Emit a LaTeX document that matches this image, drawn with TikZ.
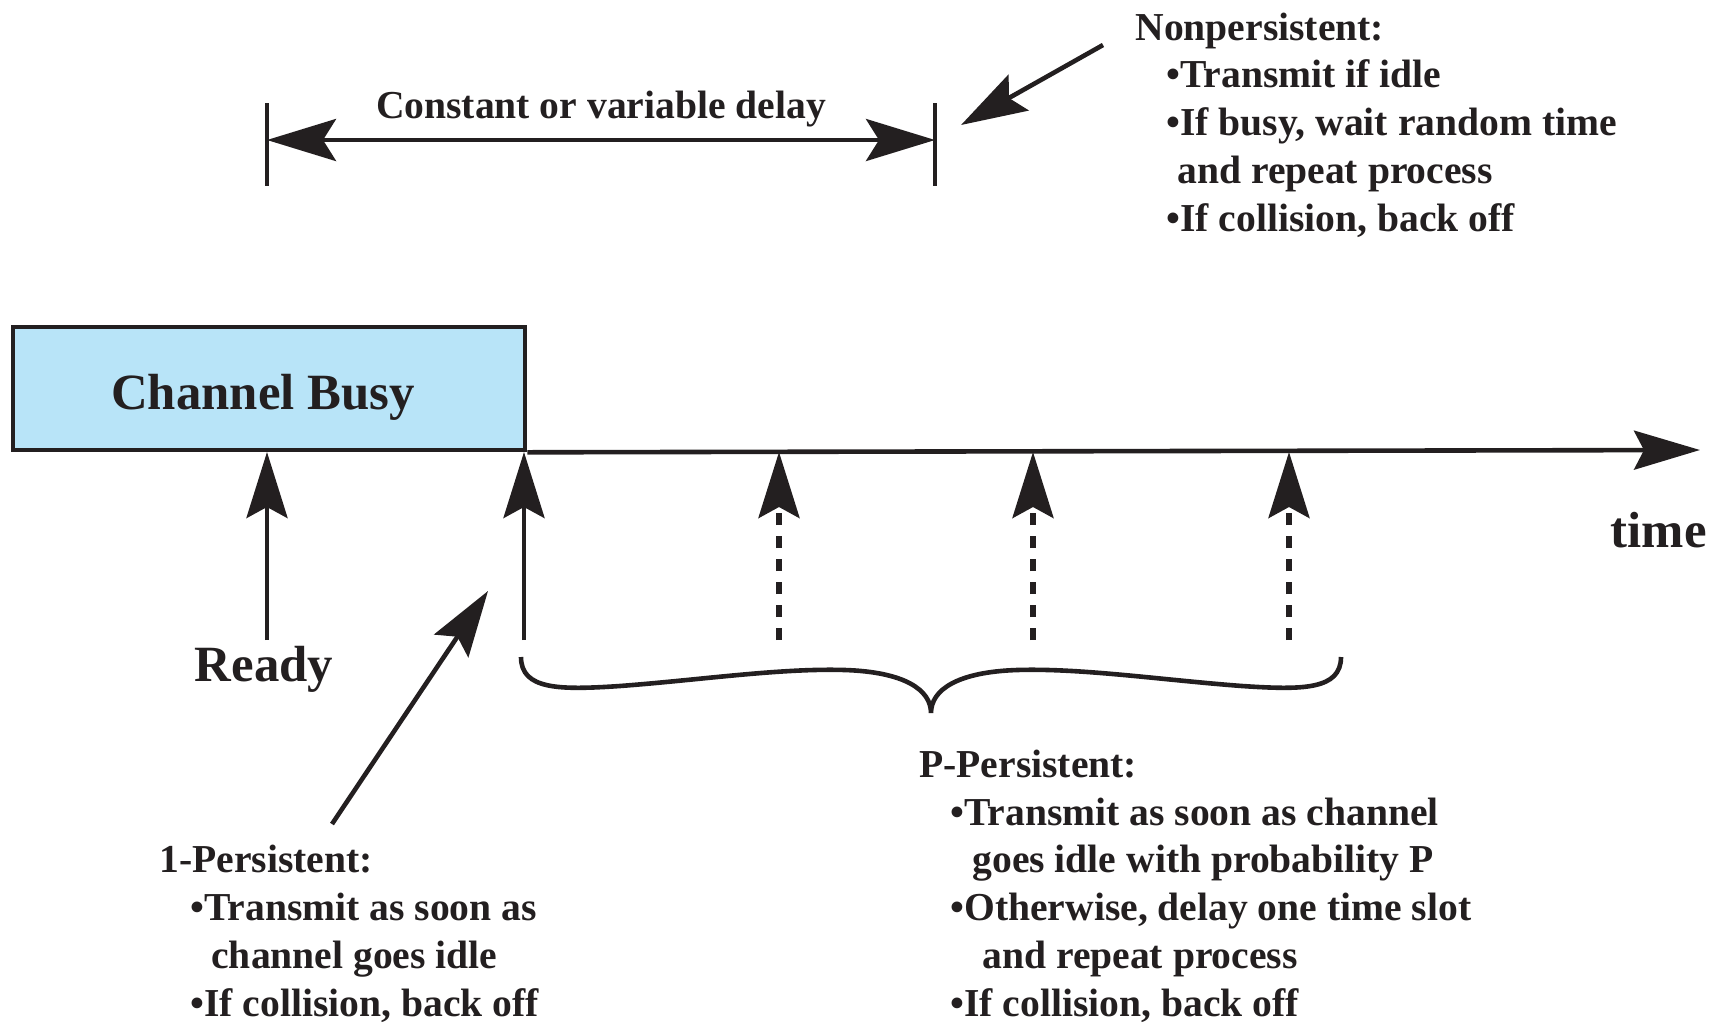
\documentclass[tikz,border=0pt]{standalone}
\usepackage{fontspec}
\setmainfont{Liberation Serif}
\usetikzlibrary{arrows.meta}
\definecolor{ink}{HTML}{231F20}
\definecolor{busy}{RGB}{184,228,248}
\tikzset{
  txt/.style={font=\fontsize{19.8}{23.85}\selectfont\bfseries, text=ink, inner sep=0pt, align=left, anchor=base west},
  big/.style={font=\fontsize{25.4}{30}\selectfont\bfseries, text=ink, inner sep=0pt},
  ln/.style={draw=ink, line width=2.3pt},
  thinln/.style={draw=ink, line width=2pt},
  vtip/.style={-{Stealth[length=33pt,width=20.5pt,inset=5.5pt]}},
  ttip/.style={-{Stealth[length=33pt,width=19.5pt,inset=5pt]}},
  dtip/.style={{Stealth[length=34.5pt,width=21pt,inset=6.5pt]}-{Stealth[length=34.5pt,width=21pt,inset=6.5pt]}},
  dashln/.style={line width=2.6pt, dash pattern=on 6pt off 5.5pt},
}
\begin{document}
\begin{tikzpicture}[x=0.5pt,y=-0.5pt]
\useasboundingbox (0,0) rectangle (1720,1024);
% channel busy box
\node[ln, fill=busy, minimum width=256pt, minimum height=61.5pt, inner sep=0pt] (busybox) at (269,388.5) {};
\node[big, anchor=base] (busytxt) at (263,409) {Channel Busy};
% time axis
\coordinate (tend) at (1700,450);
\draw[ln, ttip] (busybox.south east) -- (tend);
\node[big, anchor=base east] (time) at (1707,547) {time};
% vertical arrows
\coordinate (r0) at (267,640); \coordinate (r1) at (267,452);
\coordinate (a0) at (524,640); \coordinate (a1) at (524,452);
\coordinate (b0) at (779,640); \coordinate (b1) at (779,452);
\coordinate (c0) at (1033,640); \coordinate (c1) at (1033,452);
\coordinate (d0) at (1289,640); \coordinate (d1) at (1289,452);
\draw[ln, vtip] (r0) -- (r1);
\draw[ln, vtip] (a0) -- (a1);
\draw[ln, dashln, vtip] (b0) -- (b1);
\draw[ln, dashln, vtip] (c0) -- (c1);
\draw[ln, dashln, vtip] (d0) -- (d1);
\node[big, anchor=base] (ready) at (264,681) {Ready};
% delay
\coordinate (dl0) at (267,103); \coordinate (dl1) at (267,186);
\coordinate (dr0) at (935,103); \coordinate (dr1) at (935,186);
\coordinate (dlm) at (267,140); \coordinate (drm) at (935,140);
\draw[thinln] (dl0) -- (dl1);
\draw[thinln] (dr0) -- (dr1);
\draw[ln, dtip] (dlm) -- (drm);
\node[txt, anchor=base] (delay) at (601,118) {Constant or variable delay};
% brace
\draw[ln] (521,657) .. controls (521,690) and (560,690) .. (620,686)
  .. controls (700,680) and (780,668) .. (845,670)
  .. controls (905,672) and (931,690) .. (931,713)
  .. controls (931,690) and (957,672) .. (1017,670)
  .. controls (1082,668) and (1162,680) .. (1242,686)
  .. controls (1302,690) and (1341,690) .. (1341,657);
% pointer arrows
\coordinate (p1s) at (332,824); \coordinate (p1e) at (488,591);
\draw[ln, vtip] (p1s) -- (p1e);
\coordinate (nps) at (1103,45); \coordinate (npe) at (961,125);
\draw[ln, vtip] (nps) -- (npe);
% text blocks (anchored at the baseline of their last line)
\node[txt] (nonp) at (1135,231) {Nonpersistent:\\
\hspace*{15.5pt}•Transmit if idle\\
\hspace*{15.5pt}•If busy, wait random time\\
\hspace*{21pt}and repeat process\\
\hspace*{15.5pt}•If collision, back off};
\node[txt] (onep) at (159,1016) {1-Persistent:\\
\hspace*{15.5pt}•Transmit as soon as\\
\hspace*{26pt}channel goes idle\\
\hspace*{15.5pt}•If collision, back off};
\node[txt] (pp) at (919,1016) {P-Persistent:\\
\hspace*{15.5pt}•Transmit as soon as channel\\
\hspace*{26.5pt}goes idle with probability P\\
\hspace*{15.5pt}•Otherwise, delay one time slot\\
\hspace*{31.5pt}and repeat process\\
\hspace*{15.5pt}•If collision, back off};
\end{tikzpicture}
\end{document}
